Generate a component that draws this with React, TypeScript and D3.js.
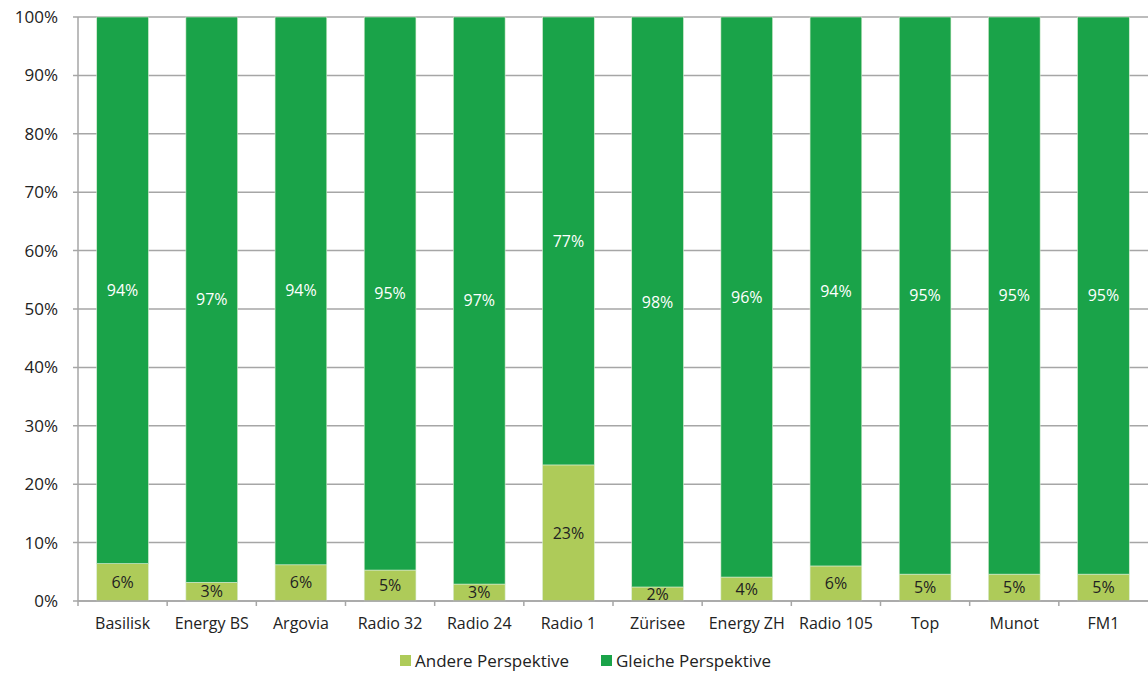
import React from "react";
import * as d3 from "d3";

const categories = ["Basilisk", "Energy BS", "Argovia", "Radio 32", "Radio 24", "Radio 1", "Zürisee", "Energy ZH", "Radio 105", "Top", "Munot", "FM1"];
const andere = [6.4, 3.2, 6.2, 5.3, 2.9, 23.3, 2.4, 4.1, 6.0, 4.6, 4.6, 4.6];
const gleiche = [93.6, 96.8, 93.8, 94.7, 97.1, 76.7, 97.6, 95.9, 94.0, 95.4, 95.4, 95.4];
const yTicks = [0, 10, 20, 30, 40, 50, 60, 70, 80, 90, 100];
const seriesNames = ["Andere Perspektive", "Gleiche Perspektive"];

const W = 1148, H = 673;
const M = { left: 78, right: 0, top: 17, bottom: 72 };
const colors = ["#AECB59", "#1AA349"];
const font = "'Open Sans', 'Noto Sans', sans-serif";
const grid = "#A6A6A6";

export default function App() {
  const x = d3.scaleBand<string>().domain(categories).range([M.left, W - M.right]).paddingInner(0.42).paddingOuter(0.21);
  const y = d3.scaleLinear().domain([0, 100]).range([H - M.bottom, M.top]);
  const rows = categories.map((c, i) => ({ cat: c, andere: andere[i], gleiche: gleiche[i] }));
  const stack = d3.stack<any>().keys(["andere", "gleiche"])(rows);
  const step = x.step();
  const y0 = y(0);
  const bandStarts = categories.map((c) => (x(c) as number) - x.paddingInner() * step / 2);

  return (
    <svg width={W} height={H} style={{ position: "absolute", left: 0, top: 0 }} fontFamily={font}>
      {yTicks.map((t) => (
        <g key={t}>
          <line x1={M.left - 5} x2={W} y1={y(t)} y2={y(t)} stroke={grid} strokeWidth={1.5} />
          <text x={58} y={y(t)} dy="0.35em" textAnchor="end" fontSize={17} fill="#222">{t}%</text>
        </g>
      ))}
      <line x1={M.left} x2={M.left} y1={M.top} y2={y0 + 5} stroke={grid} strokeWidth={1.5} />
      {bandStarts.slice(1).map((bx, i) => (
        <line key={i} x1={bx} x2={bx} y1={y0} y2={y0 + 5} stroke={grid} strokeWidth={1.5} />
      ))}
      {stack.map((s, si) => (
        <g key={si}>
          {s.map((d, i) => {
            const bx = x(categories[i]) as number;
            const top = y(d[1]), bot = y(d[0]);
            const v = si === 0 ? andere[i] : gleiche[i];
            return (
              <g key={i}>
                <rect x={bx} y={top} width={x.bandwidth()} height={bot - top} fill={colors[si]} stroke="#d8ecd0" strokeWidth={0.6} />
                <text x={bx + x.bandwidth() / 2} y={(top + bot) / 2} dy="0.35em" textAnchor="middle" fontSize={16} fill={si === 0 ? "#222" : "#fff"}>
                  {Math.round(v)}%
                </text>
              </g>
            );
          })}
        </g>
      ))}
      <line x1={M.left} x2={W} y1={y0} y2={y0} stroke={grid} strokeWidth={1.5} />
      {categories.map((c) => (
        <text key={c} x={(x(c) as number) + x.bandwidth() / 2} y={623} dy="0.35em" textAnchor="middle" fontSize={16} fill="#222">{c}</text>
      ))}
      {seriesNames.map((n, i) => {
        const lx = i === 0 ? 400 : 601;
        return (
          <g key={n}>
            <rect x={lx} y={655} width={11} height={11} fill={colors[i]} />
            <text x={lx + 15} y={661} dy="0.35em" fontSize={17} fill="#222">{n}</text>
          </g>
        );
      })}
    </svg>
  );
}
